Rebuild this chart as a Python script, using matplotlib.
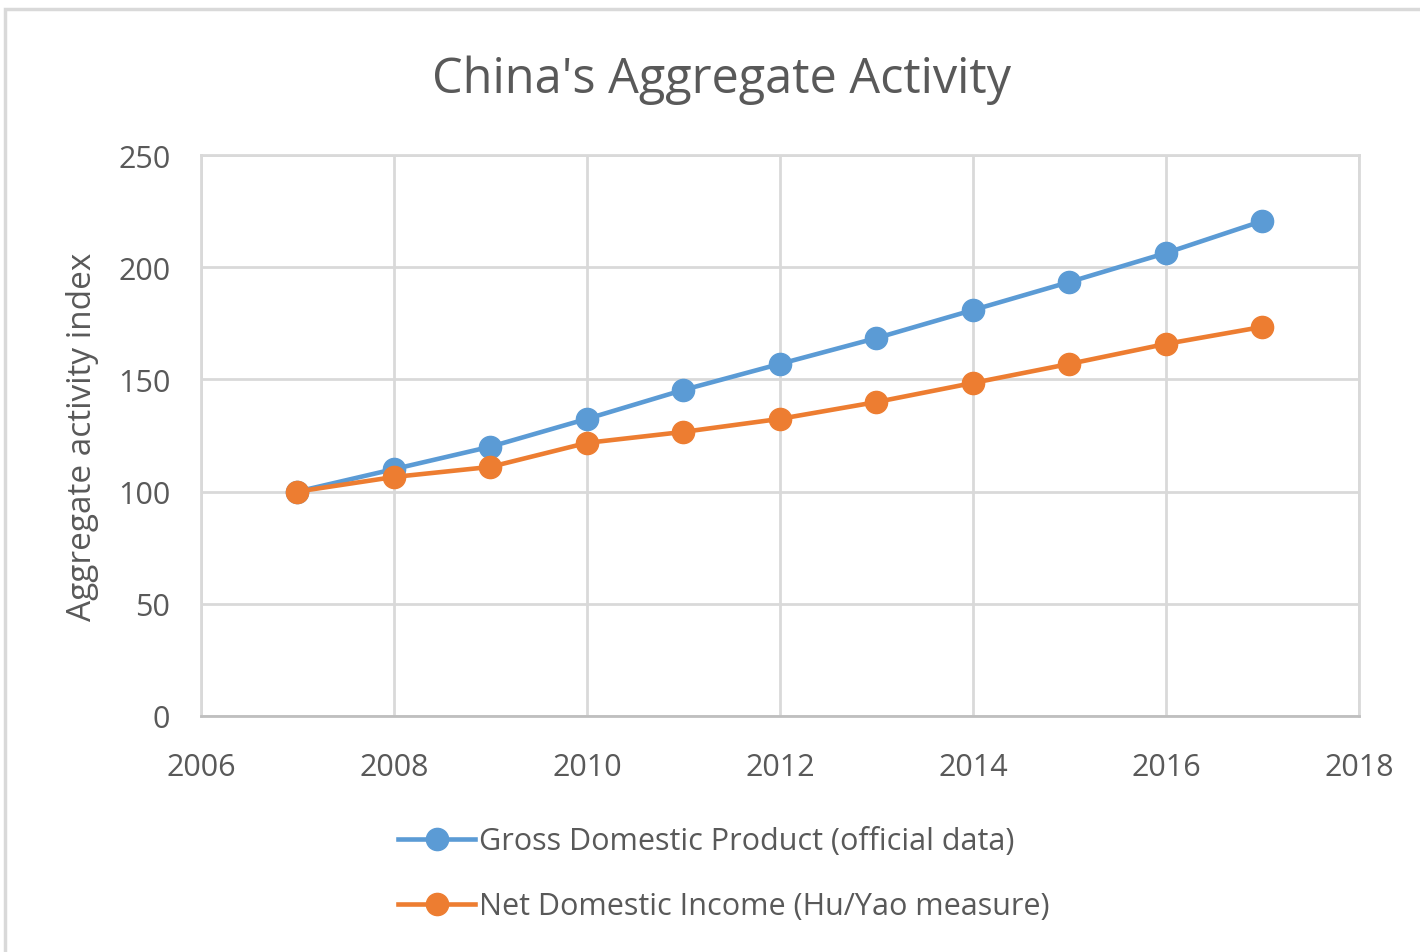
import matplotlib.pyplot as plt
from matplotlib.lines import Line2D
from matplotlib.patches import Rectangle

plt.rcParams['font.family'] = ['Open Sans', 'DejaVu Sans']

years = [2007, 2008, 2009, 2010, 2011, 2012, 2013, 2014, 2015, 2016, 2017]
gdp = [100, 110, 120, 132.4, 145.3, 156.9, 168.4, 180.9, 193.4, 206.3, 220.6]
ndi = [100, 106.5, 111, 121.7, 126.6, 132.4, 139.9, 148.4, 156.9, 165.8, 173.4]

gdp_label = 'Gross Domestic Product (official data)'
ndi_label = 'Net Domestic Income (Hu/Yao measure)'

blue = '#5B9BD5'
orange = '#ED7D31'
text_col = '#595959'
grid_col = '#d9d9d9'

fig = plt.figure(figsize=(14.2, 9.53), dpi=100)
fig.patches.append(Rectangle((5 / 1420, -0.1), 1.2, 1 - 10 / 953 + 0.1,
                             transform=fig.transFigure, fill=False,
                             edgecolor='#d9d9d9', linewidth=2.5))

ax = fig.add_axes([0.1415, 0.2477, 0.8155, 0.5886])
ax.plot(years, gdp, color=blue, linewidth=3.3, marker='o', markersize=16, zorder=3)
ax.plot(years, ndi, color=orange, linewidth=3.3, marker='o', markersize=16, zorder=4)

ax.set_xlim(2006, 2018)
ax.set_ylim(0, 250)
ax.set_xticks(range(2006, 2019, 2))
ax.set_yticks(range(0, 251, 50))
ax.grid(True, color=grid_col, linewidth=2)
ax.set_axisbelow(True)
for side in ['top', 'right', 'left']:
    ax.spines[side].set_color(grid_col)
    ax.spines[side].set_linewidth(2)
ax.spines['bottom'].set_color('#bfbfbf')
ax.spines['bottom'].set_linewidth(2)
ax.tick_params(length=0, labelsize=22, colors=text_col)
ax.tick_params(axis='x', pad=26)
ax.tick_params(axis='y', pad=22)

ax.set_ylabel('Aggregate activity index', fontsize=24, color=text_col, labelpad=14)
fig.text(0.508, 0.916, "China's Aggregate Activity", ha='center', va='center',
         fontsize=35, color=text_col)

handles = [Line2D([], [], color=blue, linewidth=3.3, marker='o', markersize=16),
           Line2D([], [], color=orange, linewidth=3.3, marker='o', markersize=16)]
fig.legend(handles, [gdp_label, ndi_label], loc='center', bbox_to_anchor=(0.51, 0.082),
           frameon=False, fontsize=22, labelcolor=text_col, handlelength=2.5,
           handletextpad=0.15, labelspacing=1.15)

fig.savefig('out.png', dpi=100)
